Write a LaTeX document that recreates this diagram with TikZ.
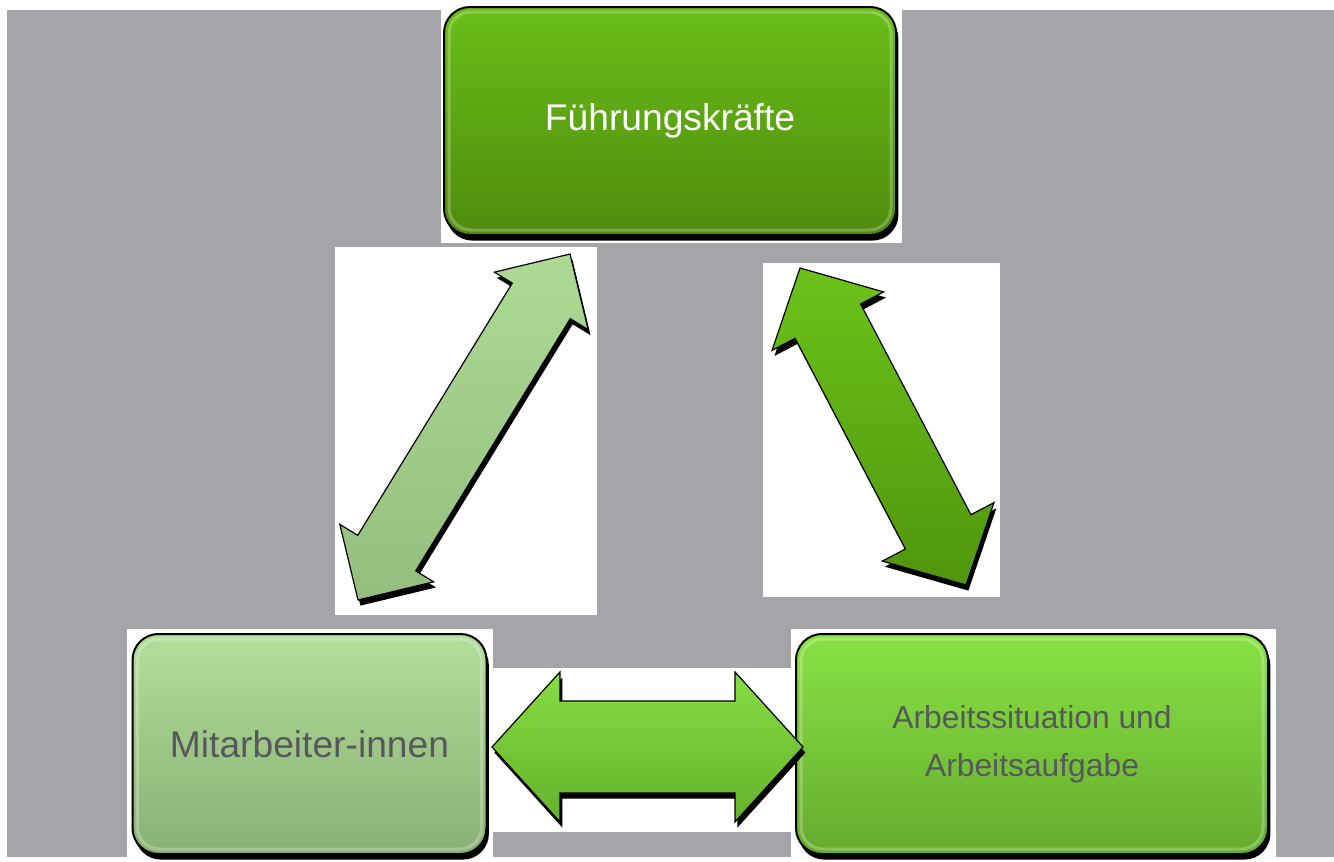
\documentclass[tikz,border=0pt]{standalone}
\usepackage{fontspec}
\setmainfont{Liberation Sans}
\usetikzlibrary{calc,shadows}
\definecolor{bg}{RGB}{164,165,169}
\definecolor{txtgray}{RGB}{88,88,92}
\definecolor{fkTop}{RGB}{106,190,24}
\definecolor{fkBot}{RGB}{78,140,14}
\definecolor{maTop}{RGB}{178,222,154}
\definecolor{maBot}{RGB}{138,176,116}
\definecolor{arTop}{RGB}{136,226,68}
\definecolor{arBot}{RGB}{102,172,46}
\definecolor{laTop}{RGB}{172,218,148}
\definecolor{laBot}{RGB}{148,190,126}
\definecolor{raTop}{RGB}{108,194,26}
\definecolor{raBot}{RGB}{80,150,14}
\definecolor{haTop}{RGB}{136,220,68}
\definecolor{haBot}{RGB}{100,178,42}
\newcommand\bigarrow[6]{%
  \path[#6] (#1) -- ($(#1)!#3!(#2)!#4!90:(#2)$) -- ($(#1)!#3!(#2)!#5!90:(#2)$)
   -- ($(#2)!#3!(#1)!#5!-90:(#1)$) -- ($(#2)!#3!(#1)!#4!-90:(#1)$) -- (#2)
   -- ($(#2)!#3!(#1)!#4!90:(#1)$) -- ($(#2)!#3!(#1)!#5!90:(#1)$)
   -- ($(#1)!#3!(#2)!#5!-90:(#2)$) -- ($(#1)!#3!(#2)!#4!-90:(#2)$) -- cycle;}
\begin{document}
\begin{tikzpicture}[x=0.5pt,y=-0.5pt,
  blackshadow/.style={drop shadow={opacity=1,fill=black,shadow xshift=1.2pt,shadow yshift=-2.8pt}},
  box/.style={rounded corners=13pt,draw=black,line width=1pt,inner sep=0pt,align=center,blackshadow},
  bevel/.style={white,opacity=0.25,line width=1.5pt,rounded corners=11pt},
  blockarrow/.style={draw=black,line width=0.6pt,line join=miter,blackshadow},
  patch/.style={fill=white}]
\useasboundingbox (0,0) rectangle (1334,862);
\fill[white] (0,0) rectangle (1334,862);
\fill[bg] (7,10) rectangle (1334,857);
% white picture patches
\fill[patch] (441,0) rectangle (902,243);
\fill[patch] (335,247) rectangle (597,615);
\fill[patch] (763,263) rectangle (1000,597);
\fill[patch] (127,629) rectangle (493,862);
\fill[patch] (493,668) rectangle (809,832);
\fill[patch] (791,629) rectangle (1276,862);
% boxes
\node[box,top color=fkTop,bottom color=fkBot,text=white,
      minimum width=226pt,minimum height=114pt,font=\fontsize{18.6}{22}\selectfont]
      (fk) at (670,121) {Führungskräfte};
\node[box,top color=maTop,bottom color=maBot,text=txtgray,
      minimum width=177pt,minimum height=110pt,font=\fontsize{18.6}{22}\selectfont]
      (ma) at (309.5,744) {Mitarbeiter-innen};
\node[box,top color=arTop,bottom color=arBot,text=txtgray,
      minimum width=236pt,minimum height=110pt,font=\fontsize{15.9}{24}\selectfont]
      (ar) at (1032,744) {\raisebox{-2.5pt}{Arbeitssituation und}\\\raisebox{-2.5pt}{Arbeitsaufgabe}};
\foreach \b in {fk,ma,ar}
  \draw[bevel] ($(\b.north west)+(6,6)$) rectangle ($(\b.south east)+(-6,-6)$);
% arrow end points
\coordinate (la1) at (358,600);
\coordinate (la2) at (570,254);
\coordinate (ra1) at (800,268);
\coordinate (ra2) at (966,585);
\coordinate (ha1) at (492,747);
\coordinate (ha2) at (803,747);
% arrows
\bigarrow{la1}{la2}{27.5pt}{27.5pt}{17pt}{blockarrow,top color=laTop,bottom color=laBot}
\bigarrow{ra1}{ra2}{30pt}{31.5pt}{18.5pt}{blockarrow,top color=raTop,bottom color=raBot}
\bigarrow{ha1}{ha2}{34pt}{37.5pt}{23pt}{blockarrow,top color=haTop,bottom color=haBot}
\end{tikzpicture}
\end{document}
